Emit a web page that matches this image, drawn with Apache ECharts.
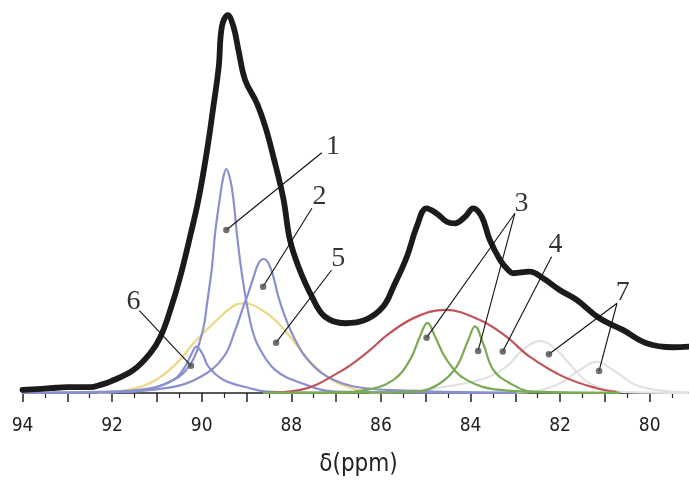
<!DOCTYPE html>
<html>
<head>
<meta charset="utf-8">
<script src="https://cdn.jsdelivr.net/npm/echarts@6/dist/echarts.min.js"></script>
<style>
html,body{margin:0;padding:0;background:#fff;}
#chart{width:689px;height:482px;}
</style>
</head>
<body>
<div id="chart"></div>
<script>
// x: chemical shift (ppm), y: intensity (arbitrary units)
const xTickLabels = [94, 92, 90, 88, 86, 84, 82, 80];

const totalSpectrum = [
  [94.00,0.79],[93.38,1.24],[93.00,1.51],[92.48,1.51],[92.26,2.12],[92.04,2.99],
  [91.52,6.08],[91.15,10.50],[90.92,14.89],[90.70,21.96],[90.48,30.77],[90.26,41.35],
  [90.07,51.32],[89.88,64.29],[89.74,75.74],[89.62,86.32],[89.55,96.90],[89.42,100.0],
  [89.29,96.90],[89.18,90.74],[89.03,82.80],[88.77,76.72],[88.58,70.45],[88.40,62.51],
  [88.18,51.59],[88.03,40.48],[87.84,33.41],[87.54,25.48],[87.25,20.19],[86.80,18.44],
  [86.35,19.31],[85.95,22.83],[85.72,28.12],[85.42,36.06],[85.20,43.99],[84.98,48.86],
  [84.76,47.54],[84.53,45.32],[84.35,44.89],[84.12,46.64],[83.94,48.86],[83.75,46.64],
  [83.57,40.48],[83.34,35.19],[83.16,32.54],[83.05,31.67],[82.68,32.09],
  [82.38,30.34],[82.01,27.25],[81.63,24.60],[81.12,19.76],[80.60,16.67],[80.07,13.15],
  [79.48,12.09],[79.13,12.25]
];

const peak1 = [
  [94.00,0],[92.71,0.13],[91.53,0.40],[90.77,2.65],[90.29,6.88],[89.99,15.87],[89.87,24.60],
  [89.77,33.33],[89.70,42.33],[89.60,51.06],[89.53,56.35],[89.45,59.26],[89.36,56.35],
  [89.29,51.06],[89.20,40.48],[89.10,31.22],[88.99,23.28],[88.87,16.67],[88.73,12.25],
  [88.36,6.08],[87.77,2.57],[87.02,0.34],[85.13,0.1],[83.00,0]
];
const peak2 = [
  [94.00,0],[92.26,0.13],[90.77,1.32],[90.03,4.23],[89.51,9.52],[89.25,16.67],[89.07,22.83],
  [88.96,26.38],[88.84,30.77],[88.73,34.31],[88.62,35.45],[88.51,34.31],[88.40,30.77],
  [88.29,25.48],[88.14,20.19],[87.95,14.89],[87.69,9.60],[87.32,5.21],[86.87,2.57],
  [86.35,1.24],[85.57,0.66],[84.24,0.19],[82.97,0]
];
const peak6 = [
  [94.00,0],[92.26,0.26],[91.15,1.24],[90.63,3.44],[90.37,6.96],[90.22,10.50],[90.12,12.25],
  [89.99,10.50],[89.85,6.96],[89.51,3.44],[88.92,1.24],[88.55,0.34],[87.13,0]
];
const peak5 = [
  [92.33,0],[91.89,0.34],[91.15,2.65],[90.55,7.94],[90.18,13.23],[89.66,19.31],[89.25,23.28],
  [89.03,23.73],[88.66,21.96],[88.29,18.44],[87.91,13.15],[87.54,7.86],[87.10,3.44],
  [86.65,1.24],[86.35,0.34]
];
const peak4 = [
  [88.63,0],[87.80,0.79],[86.91,5.63],[86.32,10.58],[85.80,15.87],[85.20,20.19],[84.57,21.96],
  [83.79,19.31],[83.20,14.89],[82.68,9.60],[81.93,4.31],[81.19,1.24],[80.74,0.26]
];
const peak3a = [
  [88.63,0],[87.07,0.08],[86.32,0.79],[85.72,3.44],[85.35,8.73],[85.13,14.89],[84.96,18.52],
  [84.79,14.89],[84.53,8.73],[84.09,3.44],[83.34,0.79],[82.01,0.08],[80.67,0]
];
const peak3b = [
  [88.63,0],[86.02,0.13],[85.20,0.34],[84.68,2.57],[84.31,6.96],[84.05,14.02],[83.90,17.59],
  [83.72,13.15],[83.49,6.08],[83.12,2.57],[82.61,0.34],[80.67,0]
];
const peak7a = [
  [86.24,0],[85.13,0.79],[83.79,3.44],[83.20,6.96],[82.83,11.38],[82.45,13.76],[82.08,11.38],
  [81.71,6.61],[81.34,2.57],[80.60,0.26],[79.13,0]
];
const peak7b = [
  [83.79,0],[82.83,0.13],[82.08,2.12],[81.56,6.08],[81.19,8.20],[80.82,6.08],[80.22,1.67],[79.13,0.13]
];

// annotation labels: [ppm, intensity, text]
const annotationLabels = [
  [87.07,65.08,'1'],[87.37,51.93,'2'],[82.86,50.19,'3'],[82.10,39.15,'4'],
  [86.95,35.63,'5'],[91.52,24.15,'6'],[80.60,26.53,'7']
];
// leader lines: [start, end]
const leaderLines = [
  [[87.32,63.57],[89.45,43.12]],
  [[87.54,48.86],[88.63,28.12]],
  [[83.01,47.54],[84.98,14.63]],
  [[83.01,47.54],[83.83,11.11]],
  [[82.19,36.06],[83.28,10.93]],
  [[87.10,32.54],[88.34,13.31]],
  [[91.39,21.77],[90.24,7.22]],
  [[80.73,23.73],[82.25,10.24]],
  [[80.73,23.73],[81.13,5.82]]
];
const annotationDots = [
  [89.45,43.12],[88.63,28.12],[84.98,14.63],[83.83,11.11],[83.28,10.93],
  [88.34,13.31],[90.24,7.22],[82.25,10.24],[81.13,5.82]
];

const COLORS = {
  total:'#1c1a1a', blue:'#8a90cf', yellow:'#ecd882', red:'#c0545c',
  green:'#7aaa54', gray:'#e2e2e2'
};

function comp(data, color, z){
  return {type:'line', data:data, smooth:0.4, showSymbol:false, symbol:'none',
    lineStyle:{color:color, width:2.2}, z:z, silent:true, animation:false};
}

const chart = echarts.init(document.getElementById('chart'), null, {renderer:'canvas'});
chart.setOption({
  animation:false,
  backgroundColor:'#ffffff',
  grid:{left:22.5, width:672, top:0, height:405, containLabel:false, outerBoundsMode:'none'},
  xAxis:{
    type:'value', inverse:true, min:79, max:94, interval:1,
    axisLine:{show:true, lineStyle:{color:'#222', width:1.5}},
    axisTick:{show:true, length:9, lineStyle:{color:'#222', width:1.5}},
    minorTick:{show:true, splitNumber:2, length:5, lineStyle:{color:'#222', width:1.2}},
    splitLine:{show:false},
    axisLabel:{
      margin:12, color:'#222', fontSize:19,
      fontFamily:"'Liberation Sans Narrow','DejaVu Sans Condensed',sans-serif",
      formatter:function(v){ return xTickLabels.indexOf(v) >= 0 ? String(v) : ''; }
    },
    name:'δ(ppm)', nameLocation:'middle', nameGap:48,
    nameTextStyle:{color:'#222', fontSize:24,
      fontFamily:"'Liberation Sans Narrow','DejaVu Sans Condensed',sans-serif"}
  },
  yAxis:{type:'value', min:-3.2, max:104, show:false, splitLine:{show:false}},
  series:[
    comp(peak7a, COLORS.gray, 1),
    comp(peak7b, COLORS.gray, 1),
    comp(peak5, COLORS.yellow, 2),
    comp(peak1, COLORS.blue, 3),
    comp(peak2, COLORS.blue, 3),
    comp(peak6, COLORS.blue, 3),
    comp(peak4, COLORS.red, 4),
    comp(peak3a, COLORS.green, 5),
    comp(peak3b, COLORS.green, 5),
    {type:'line', data:totalSpectrum, smooth:0.4, showSymbol:false, symbol:'none',
      lineStyle:{color:COLORS.total, width:5.8, cap:'round', join:'round'}, z:6, silent:true},
    {type:'lines', coordinateSystem:'cartesian2d', polyline:false, silent:true, z:7,
      lineStyle:{color:'#111', width:1.1, opacity:1},
      data: leaderLines.map(function(c){ return {coords:c}; })},
    {type:'scatter', data:annotationDots, symbol:'circle', symbolSize:6.5, z:8, silent:true,
      itemStyle:{color:'#4d4d4d'}},
    {type:'scatter', data:annotationLabels, symbolSize:0.1, z:9, silent:true,
      itemStyle:{color:'transparent'},
      label:{show:true, position:'inside', color:'#000', fontSize:28, textBorderWidth:0,
        fontFamily:"'Liberation Serif','DejaVu Serif',serif",
        formatter:function(p){ return p.value[2]; }}}
  ]
});
</script>
</body>
</html>
